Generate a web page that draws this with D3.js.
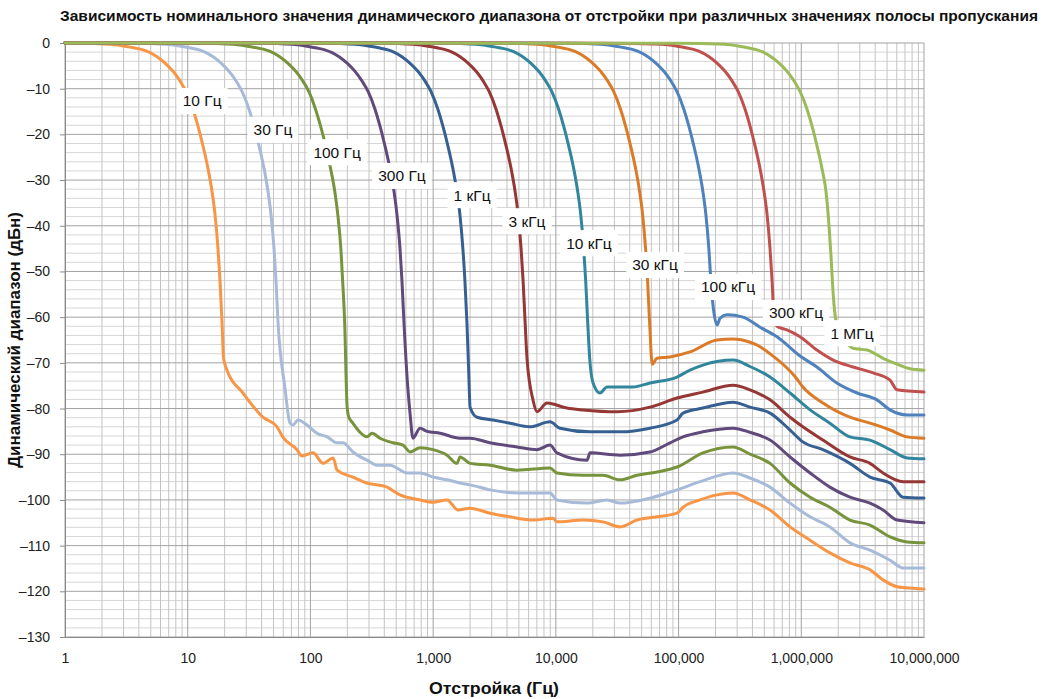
<!DOCTYPE html>
<html><head><meta charset="utf-8">
<script src="https://cdn.jsdelivr.net/npm/d3@7/dist/d3.min.js"></script>
<style>
html,body{margin:0;padding:0;background:#fff;}
svg{display:block;}
</style></head>
<body>
<svg id="chart" width="1051" height="699"></svg>
<script>
// ---------- data ----------
const titleText = "Зависимость номинального значения динамического диапазона от отстройки при различных значениях полосы пропускания";
const xTitle = "Отстройка (Гц)";
const yTitle = "Динамический диапазон (дБн)";
const xTickValues = [1, 10, 100, 1000, 10000, 100000, 1000000, 10000000];
const xTickLabels = ["1", "10", "100", "1,000", "10,000", "100,000", "1,000,000", "10,000,000"];
const yTickValues = [0, -10, -20, -30, -40, -50, -60, -70, -80, -90, -100, -110, -120, -130];
const yTickLabels = ["0", "–10", "–20", "–30", "–40", "–50", "–60", "–70", "–80", "–90", "–100", "–110", "–120", "–130"];

const seriesNames = ["10 Гц", "30 Гц", "100 Гц", "300 Гц", "1 кГц", "3 кГц", "10 кГц", "30 кГц", "100 кГц", "300 кГц", "1 МГц"];
const seriesColors = ["#F79646", "#A7BAD8", "#77933C", "#604A7B", "#376092", "#953735", "#31859C", "#DC7B27", "#4F81BD", "#C0504D", "#9BBB59"];

// [offset Hz, dB]
const s10Hz = [[1,0],[1.33,-0.03],[1.76,-0.1],[2.33,-0.3],[3.08,-0.7],[3.72,-1.1],[4.32,-1.5],[4.93,-2.1],[5.62,-3],[6.53,-4.4],[7.59,-6.2],[8.66,-8.3],[9.69,-10.6],[11.04,-14.5],[12.13,-18.2],[13.32,-22.5],[14.64,-27.5],[15.78,-32.5],[16.69,-37.5],[17.65,-45],[18.33,-52],[19.03,-61],[19.6,-69],[20.9,-71.6],[28.2,-76.6],[41,-81.9],[53.4,-84],[59.8,-86.3],[77.8,-89],[85.4,-90.4],[105,-89.7],[127,-92],[153,-90.8],[165,-93.5],[222,-95],[289,-96.3],[421,-97.2],[537,-98.9],[782,-100],[998,-100.5],[1297,-100],[1594,-102.2],[2000,-101.8],[2905,-102.9],[4229,-103.7],[6510,-104.4],[9480,-104],[10220,-104.8],[16640,-104.4],[24230,-104.8],[33320,-105.9],[45830,-104.4],[66700,-103.7],[97100,-102.9],[108700,-101.6],[149500,-100],[205800,-98.9],[277800,-98.5],[382400,-100],[556300,-102.2],[809800,-105.9],[1178000,-108.8],[1714000,-111.6],[2495000,-113.8],[3632000,-115.3],[4635000,-117.5],[6028000,-119],[7690000,-119.3],[10000000,-119.5]];
const s30Hz = [[1,0],[1.9,-0.01],[3.8,-0.03],[5.03,-0.1],[6.66,-0.3],[8.81,-0.7],[10.6,-1.1],[12.4,-1.5],[14.1,-2.1],[16.1,-3],[18.7,-4.4],[21.7,-6.2],[24.8,-8.3],[27.7,-10.6],[31.6,-14.5],[34.7,-18.2],[38.1,-22.5],[41.9,-27.5],[45.1,-32.5],[47.7,-37.5],[50.5,-45],[52.4,-52],[54.4,-61],[62,-75.5],[68.2,-83.2],[72.1,-83.6],[79.2,-82.5],[93.8,-83.6],[113,-85.4],[137,-86.2],[165,-87.5],[184,-87.5],[222,-89.5],[289,-91.3],[349,-92.4],[445,-92.4],[613,-94.1],[782,-94.1],[998,-95],[1297,-95.6],[1655,-96.3],[2000,-96.7],[2905,-97.8],[4820,-98.5],[8960,-98.5],[10200,-100],[17950,-100.7],[26100,-100],[33300,-100.7],[58500,-99.6],[97100,-97.8],[149500,-96],[278000,-94.1],[382000,-95.2],[556000,-97.2],[810000,-100.7],[1180000,-103.7],[1710000,-105.9],[2490000,-109.4],[3630000,-111],[5290000,-113.2],[6750000,-114.9],[10000000,-114.9]];
const s100Hz = [[1,0],[5,-0.01],[13.3,-0.03],[17.6,-0.1],[23.3,-0.3],[30.8,-0.7],[37.2,-1.1],[43.2,-1.5],[49.3,-2.1],[56.2,-3],[65.3,-4.4],[75.9,-6.2],[86.6,-8.3],[96.9,-10.6],[110,-14.5],[121,-18.2],[133,-22.5],[146,-27.5],[158,-32.5],[167,-37.5],[177,-45],[183,-52],[190,-61],[199,-79.5],[205,-81.8],[222,-83.2],[254,-85.2],[289,-86.2],[318,-85.4],[369,-86.5],[471,-87.5],[568,-88],[648,-89.5],[782,-88.6],[998,-89],[1297,-90.2],[1566,-92],[1655,-90.6],[2000,-92],[2905,-92.4],[4820,-93.5],[8960,-93],[10200,-94.1],[16600,-94.6],[24200,-94.6],[33300,-95.6],[45800,-94.6],[66700,-93.9],[97100,-92.8],[158000,-89.7],[278000,-88.4],[382000,-90],[556000,-92],[810000,-96.3],[1180000,-99.4],[1710000,-101.6],[2490000,-104.4],[3630000,-105.5],[5290000,-108.1],[7280000,-109.2],[10000000,-109.4]];
const s300Hz = [[1,0],[15,-0.01],[40.4,-0.03],[53.5,-0.1],[70.8,-0.3],[93.6,-0.7],[113,-1.1],[131,-1.5],[150,-2.1],[171,-3],[199,-4.4],[231,-6.2],[263,-8.3],[295,-10.6],[336,-14.5],[369,-18.2],[405,-22.5],[445,-27.5],[480,-32.5],[507,-37.5],[537,-45],[557,-52],[578,-61],[620,-75],[648,-81],[685,-86.5],[782,-84.3],[891,-85],[1137,-85.4],[1655,-86.5],[2000,-86.5],[2905,-87.5],[4820,-88.4],[7020,-89],[8960,-88],[10200,-89.7],[17950,-91.3],[19000,-89.7],[33300,-90.2],[58500,-89.5],[85200,-87.5],[108700,-86.2],[158000,-85.1],[278000,-84.3],[382000,-85.2],[556000,-86.9],[810000,-90.6],[1180000,-94.1],[1710000,-97.2],[2490000,-99.4],[3630000,-100.7],[4640000,-102.2],[6030000,-104.4],[10000000,-105]];
const s1kHz = [[1,0],[50,-0.01],[132,-0.03],[174,-0.1],[231,-0.3],[305,-0.7],[368,-1.1],[428,-1.5],[488,-2.1],[556,-3],[646,-4.4],[751,-6.2],[857,-8.3],[959,-10.6],[1093,-14.5],[1201,-18.2],[1319,-22.5],[1449,-27.5],[1562,-32.5],[1652,-37.5],[1747,-45],[1815,-52],[1884,-61],[1950,-72],[2000,-79.7],[2279,-81.9],[3076,-82.5],[4229,-83.2],[6150,-84],[8960,-82.9],[10800,-84.3],[19000,-85.1],[33300,-85.1],[58500,-84.3],[97100,-82.5],[108700,-81],[158000,-79.9],[278000,-78.6],[382000,-79.7],[556000,-81],[810000,-84.7],[1030000,-87.3],[1500000,-89],[2490000,-92],[3630000,-95],[5290000,-96.3],[6750000,-99.4],[10000000,-99.6]];
const s3kHz = [[1,0],[150,-0.01],[392,-0.03],[519,-0.1],[687,-0.3],[909,-0.7],[1097,-1.1],[1274,-1.5],[1454,-2.1],[1658,-3],[1926,-4.4],[2239,-6.2],[2555,-8.3],[2859,-10.6],[3257,-14.5],[3578,-18.2],[3929,-22.5],[4319,-27.5],[4655,-32.5],[4924,-37.5],[5207,-45],[5407,-52],[5614,-61],[5820,-69],[6510,-78.1],[7020,-80.7],[8470,-78.8],[12300,-79.9],[16600,-80.3],[31500,-80.7],[58500,-79.7],[97100,-77.7],[158000,-76.4],[278000,-74.9],[382000,-75.9],[556000,-78.1],[810000,-81.9],[1030000,-84],[1500000,-86.9],[2490000,-90.6],[3630000,-92],[4640000,-94.1],[6750000,-96],[10000000,-96]];
const s10kHz = [[1,0],[480,-0.01],[1270,-0.03],[1680,-0.1],[2225,-0.3],[2941,-0.7],[3553,-1.1],[4126,-1.5],[4708,-2.1],[5367,-3],[6236,-4.4],[7248,-6.2],[8270,-8.3],[9254,-10.6],[10540,-14.5],[11580,-18.2],[12720,-22.5],[13980,-27.5],[15070,-32.5],[15940,-37.5],[16860,-45],[17500,-52],[18170,-61],[18870,-69],[20100,-74.4],[22900,-76.6],[26100,-75.3],[42500,-75.3],[58500,-74.4],[97100,-73.1],[124000,-71.6],[158000,-70.5],[278000,-69.4],[382000,-70.8],[556000,-73.1],[810000,-76.6],[1180000,-80.3],[1710000,-83.2],[2490000,-86.2],[3630000,-86.9],[5290000,-89],[7280000,-90.8],[10000000,-91]];
const s30kHz = [[1,0],[1500,-0.01],[4057,-0.03],[5368,-0.1],[7107,-0.3],[9394,-0.7],[11350,-1.1],[13180,-1.5],[15040,-2.1],[17140,-3],[19920,-4.4],[23150,-6.2],[26410,-8.3],[29550,-10.6],[33670,-14.5],[37000,-18.2],[40630,-22.5],[44650,-27.5],[48130,-32.5],[50900,-37.5],[53830,-45],[55910,-52],[58040,-61],[61000,-70.3],[66700,-69],[85200,-68.7],[124000,-67.6],[206000,-65],[278000,-64.8],[382000,-65.5],[436000,-66.1],[556000,-68],[889000,-73],[1030000,-75.3],[1500000,-78.8],[2490000,-81.9],[3630000,-83.2],[5290000,-84.7],[7280000,-86.2],[10000000,-86.5]];
const s100kHz = [[1,0],[5000,-0.01],[13300,-0.03],[17600,-0.1],[23300,-0.3],[30800,-0.7],[37200,-1.1],[43200,-1.5],[49300,-2.1],[56200,-3],[65300,-4.4],[75900,-6.2],[86600,-8.3],[96900,-10.6],[110400,-14.5],[121300,-18.2],[133200,-22.5],[146400,-27.5],[157800,-32.5],[166900,-37.5],[176500,-45],[183300,-52],[192000,-58],[206000,-61.7],[218000,-60.2],[248000,-59.5],[335000,-60],[461000,-62.2],[634000,-64.3],[977000,-68.5],[1340000,-70.9],[1950000,-74.4],[2850000,-76.6],[4140000,-78.1],[5290000,-80.3],[7280000,-81.4],[10000000,-81.4]];
const s300kHz = [[1,0],[25000,-0.03],[73300,-0.3],[97100,-0.7],[117200,-1.1],[136200,-1.5],[155300,-2.1],[177100,-3],[205800,-4.4],[239200,-6.2],[273000,-8.3],[305500,-10.6],[348300,-14.5],[382400,-18.2],[419900,-22.5],[461300,-27.5],[497000,-32.5],[526000,-37.5],[556300,-45],[578000,-52],[599800,-60],[634000,-62],[765000,-62.8],[977000,-64.3],[1340000,-67.2],[1820000,-69.4],[2640000,-70.9],[3850000,-72.2],[5290000,-73.8],[6030000,-75.9],[10000000,-76.4]];
const s1MHz = [[1,0],[102700,-0.05],[234600,-0.3],[311000,-0.7],[375000,-1.1],[436300,-1.5],[498000,-2.1],[567000,-3],[659000,-4.4],[766000,-6.2],[873000,-8.3],[977000,-10.6],[1114000,-14.5],[1224000,-18.2],[1343000,-22.5],[1475000,-27.5],[1590000,-32.5],[1683000,-40],[1750000,-47],[1820000,-55],[1921000,-61],[2071000,-63.5],[2270000,-65.2],[2640000,-66.8],[3440000,-67.2],[4640000,-69],[6030000,-70.3],[7690000,-71.3],[10000000,-71.6]];

const allSeries = [s10Hz, s30Hz, s100Hz, s300Hz, s1kHz, s3kHz, s10kHz, s30kHz, s100kHz, s300kHz, s1MHz];
// label anchors in data coordinates [Hz, dB]
const labelAnchors = [[13.1,-12.7],[49.5,-19.0],[165,-23.9],[557,-29.1],[2075,-33.3],[5820,-39.0],[18600,-43.8],[64300,-48.6],[253000,-53.4],[906000,-59.1],[2590000,-63.5]];

// ---------- drawing ----------
const svg = d3.select("#chart");
const W = 1051, H = 699;
const m = {left: 65, right: 127, top: 43, bottom: 62};
const x = d3.scaleLog().domain([1, 1e7]).range([m.left, W - m.right]);
const y = d3.scaleLinear().domain([-130, 0]).range([H - m.bottom, m.top]);

const FONT = "'Liberation Sans', Arial, sans-serif";
const fs = 14;

// grid
const g = svg.append("g");
const hMinor = d3.range(-130, 1, 2);
g.selectAll("line.hmin").data(hMinor.filter(v => v % 10 !== 0)).join("line")
  .attr("x1", x(1)).attr("x2", x(1e7)).attr("y1", d => y(d)).attr("y2", d => y(d))
  .attr("stroke", "#d6d6d6").attr("stroke-width", 1);
const vMinor = [];
for (let d = 0; d < 7; d++) for (let k = 2; k <= 9; k++) vMinor.push(k * Math.pow(10, d));
g.selectAll("line.vmin").data(vMinor).join("line")
  .attr("x1", d => x(d)).attr("x2", d => x(d)).attr("y1", y(0)).attr("y2", y(-130))
  .attr("stroke", "#c4c4c4").attr("stroke-width", 1);
g.selectAll("line.hmaj").data(yTickValues).join("line")
  .attr("x1", x(1)).attr("x2", x(1e7)).attr("y1", d => y(d)).attr("y2", d => y(d))
  .attr("stroke", "#a3a3a3").attr("stroke-width", 1);
g.selectAll("line.vmaj").data(xTickValues).join("line")
  .attr("x1", d => x(d)).attr("x2", d => x(d)).attr("y1", y(0)).attr("y2", y(-130))
  .attr("stroke", "#a3a3a3").attr("stroke-width", 1);

// axes
const yAxis = d3.axisLeft(y).tickValues(yTickValues).tickSize(5).tickPadding(10)
  .tickFormat((d, i) => yTickLabels[i]);
const ya = svg.append("g").attr("transform", `translate(${m.left},0)`).call(yAxis);
ya.select(".domain").attr("stroke", "#8a8a8a");
ya.selectAll(".tick line").attr("stroke", "#8a8a8a");
ya.selectAll("text").attr("font-family", FONT).attr("font-size", fs).attr("fill", "#222");

const xAxis = d3.axisBottom(x).tickValues(xTickValues).tickSize(0).tickPadding(16)
  .tickFormat((d, i) => xTickLabels[i]);
const xa = svg.append("g").attr("transform", `translate(0,${H - m.bottom})`).call(xAxis);
xa.select(".domain").attr("stroke", "#8a8a8a");
xa.selectAll("text").attr("font-family", FONT).attr("font-size", fs).attr("fill", "#222");

// lines
const line = d3.line().x(d => x(d[0])).y(d => y(d[1])).curve(d3.curveMonotoneX);
svg.append("g").selectAll("path").data(allSeries).join("path")
  .attr("d", line).attr("fill", "none")
  .attr("stroke", (d, i) => seriesColors[i]).attr("stroke-width", 3)
  .attr("stroke-linejoin", "round").attr("stroke-linecap", "round");

// labels
const lg = svg.append("g");
seriesNames.forEach((name, i) => {
  const cx = x(labelAnchors[i][0]), cy = y(labelAnchors[i][1]);
  const t = lg.append("text").attr("x", cx).attr("y", cy).attr("dy", "0.35em")
    .attr("text-anchor", "middle").attr("font-family", FONT).attr("font-size", 15.5)
    .attr("fill", "#111").text(name);
  const bb = t.node().getBBox();
  lg.insert("rect", "text").attr("x", bb.x - 6).attr("y", cy - 13).attr("width", bb.width + 12).attr("height", 26)
    .attr("fill", "#fff");
});

// titles
svg.append("text").attr("x", 549).attr("y", 21).attr("text-anchor", "middle")
  .attr("font-family", FONT).attr("font-weight", "bold").attr("font-size", 15.5)
  .attr("textLength", 978).attr("lengthAdjust", "spacingAndGlyphs").attr("fill", "#111").text(titleText);
svg.append("text").attr("x", 494).attr("y", 694).attr("text-anchor", "middle")
  .attr("font-family", FONT).attr("font-weight", "bold").attr("font-size", 16.5)
  .attr("textLength", 130).attr("lengthAdjust", "spacingAndGlyphs").attr("fill", "#111").text(xTitle);
svg.append("text").attr("transform", "translate(20,340) rotate(-90)").attr("text-anchor", "middle")
  .attr("font-family", FONT).attr("font-weight", "bold").attr("font-size", 16.5)
  .attr("textLength", 256).attr("lengthAdjust", "spacingAndGlyphs").attr("fill", "#111").text(yTitle);
</script>
</body></html>
